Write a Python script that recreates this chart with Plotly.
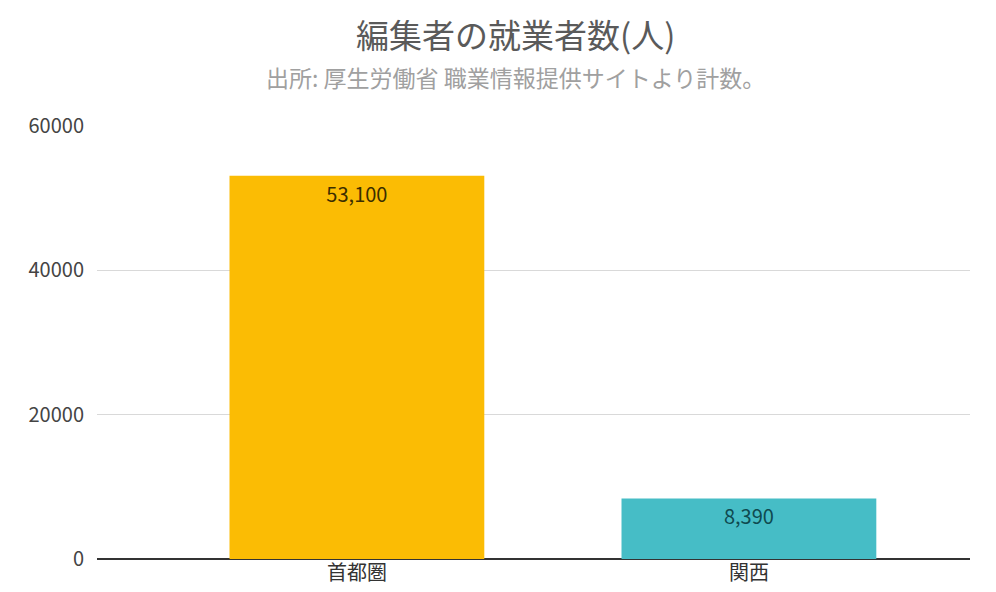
import plotly.graph_objects as go

categories = ["首都圏", "関西"]
values = [53100, 8390]
value_labels = ["53,100", "8,390"]
bar_colors = ["#FBBC04", "#46BDC6"]
label_colors = ["#3b2e00", "#0f4a50"]
y_ticks = [0, 20000, 40000, 60000]

font_family = "Noto Sans CJK JP, Noto Sans, sans-serif"

# page body has an 8px margin; figure coordinates are offset accordingly
W, H = 996, 592
L, R, T, B = 89, 34, 118, 41
plot_h = H - T - B

fig = go.Figure(go.Bar(
    x=categories,
    y=values,
    width=0.65,
    marker=dict(color=bar_colors, line=dict(width=0)),
    text=value_labels,
    textposition="inside",
    insidetextanchor="end",
    textangle=0,
    textfont=dict(family=font_family, size=20, color=label_colors),
    cliponaxis=False,
))

fig.update_layout(
    width=W, height=H,
    margin=dict(l=L, r=R, t=T, b=B),
    paper_bgcolor="white", plot_bgcolor="white",
    font=dict(family=font_family),
    showlegend=False,
    annotations=[
        dict(
            text="編集者の就業者数(人)",
            xref="paper", yref="paper",
            x=((343 + 688) / 2 - 8 - L) / (W - L - R), y=1 + (T - 26) / plot_h,
            xanchor="center", yanchor="middle", showarrow=False,
            font=dict(size=33, color="#5a5a5a", family=font_family),
        ),
        dict(
            text="出所: 厚生労働省 職業情報提供サイトより計数。",
            xref="paper", yref="paper",
            x=((268 + 763) / 2 - 8 - L) / (W - L - R), y=1 + (T - 69) / plot_h,
            xanchor="center", yanchor="middle", showarrow=False,
            font=dict(size=23, color="#a0a0a0", family=font_family),
        ),
    ],
)

fig.update_xaxes(
    range=[-0.663, 1.564],
    showgrid=False, showline=False, ticks="",
    tickfont=dict(size=20, color="#333333", family=font_family),
)
fig.update_yaxes(
    range=[0, 60000],
    tickvals=y_ticks, ticktext=[str(v) for v in y_ticks],
    showgrid=True, gridcolor="#d9d9d9", gridwidth=1,
    zeroline=True, zerolinecolor="#333333", zerolinewidth=1.5,
    showline=False, ticks="",
    ticklabelstandoff=12,
    tickfont=dict(size=20, color="#444444", family=font_family),
)

fig.write_html("out.html")
